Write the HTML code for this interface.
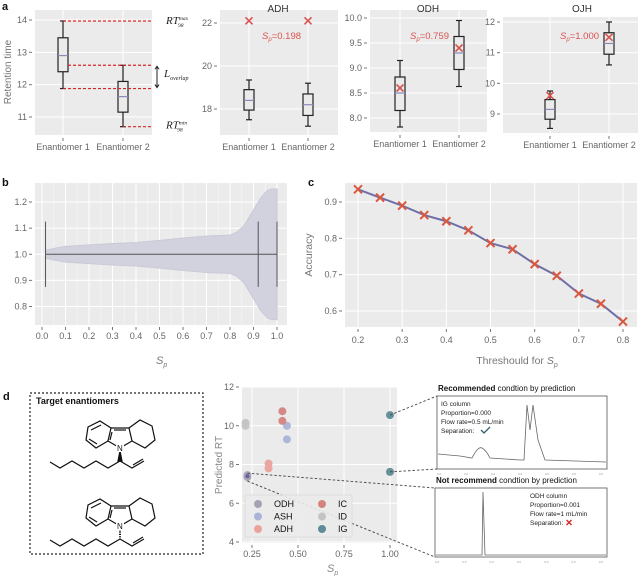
<!DOCTYPE html>
<html><head><meta charset="utf-8"><style>
body{margin:0;background:#fff}
svg{display:block;font-family:"Liberation Sans",sans-serif}
.t{fill:#666;font-size:9px}
.ttl{fill:#333;font-size:10px}
.lab{font-weight:bold;font-size:11px;fill:#111}
</style></head><body>
<svg id="fig" width="640" height="576" viewBox="0 0 640 576">
<g id="root"></g>
</svg>
<script>
// ---------- data ----------
const boxCats = ["Enantiomer 1","Enantiomer 2"];
// [whiskLow, q1, median, q3, whiskHigh]
const boxA = [[11.88,12.4,12.9,13.45,13.97],[10.7,11.15,11.63,12.1,12.6]];
const boxADH = [[17.5,17.95,18.4,18.9,19.35],[17.2,17.7,18.2,18.7,19.2]];
const boxODH = [[7.82,8.15,8.5,8.82,9.15],[8.63,8.97,9.3,9.63,9.95]];
const boxOJH = [[8.53,8.83,9.15,9.47,9.75],[10.6,10.95,11.3,11.65,12.0]];
const meanADH = [22.1,22.1];
const meanODH = [8.6,9.4];
const meanOJH = [9.6,11.5];
const spValues = ["0.198","0.759","1.000"];
const ticksA = [11,12,13,14];
const ticksADH = [18,20,22];
const ticksODH = [8.0,8.5,9.0,9.5,10.0];
const ticksOJH = [9,10,11,12];
// violin (b)
const violinX = [0.015,0.05,0.1,0.2,0.3,0.4,0.5,0.6,0.7,0.75,0.8,0.83,0.86,0.9,0.93,0.96,0.98,1.0];
const violinHalf = [0.015,0.022,0.03,0.036,0.041,0.045,0.053,0.062,0.07,0.072,0.073,0.085,0.11,0.17,0.215,0.245,0.25,0.25];
const violinBars = [0.015,0.92,1.0];
const ticksBx = [0,0.1,0.2,0.3,0.4,0.5,0.6,0.7,0.8,0.9,1.0];
const ticksBy = [0.8,0.9,1.0,1.1,1.2];
// accuracy (c)
const thresholds = [0.2,0.25,0.3,0.35,0.4,0.45,0.5,0.55,0.6,0.65,0.7,0.75,0.8];
const accuracy = [0.935,0.912,0.89,0.864,0.847,0.822,0.787,0.77,0.729,0.697,0.648,0.62,0.571];
const ticksCx = [0.2,0.3,0.4,0.5,0.6,0.7,0.8];
const ticksCy = [0.6,0.7,0.8,0.9];
// scatter (d)
const scatterCols = ["ODH","ASH","ADH","IC","ID","IG"];
const scatterColors = ["#a3a3b5","#aab4d8","#eaa39c","#d4847f","#c4c4c4","#5f8c96"];
const scatterSp = [[0.225,0.225],[0.44,0.44],[0.34,0.34],[0.415,0.415],[0.215,0.215],[1.0,1.0]];
const scatterRT = [[7.35,7.45],[10.0,9.3],[8.05,7.8],[10.75,10.25],[10.15,10.0],[10.55,7.62]];
const ticksDx = [0.25,0.5,0.75,1.0];
const ticksDy = [4,6,8,10,12];

// ---------- helpers ----------
const NS="http://www.w3.org/2000/svg";
const root=document.getElementById('root');
function mk(tag,attrs,parent,text){const e=document.createElementNS(NS,tag);for(const k in attrs)e.setAttribute(k,attrs[k]);if(text!==undefined)e.textContent=text;(parent||root).appendChild(e);return e;}
function grp(name){const g=mk('g',{});return g;}
function scale(d0,d1,r0,r1){return v=>r0+(v-d0)*(r1-r0)/(d1-d0);}
function bg(g,x0,y0,x1,y1){mk('rect',{x:x0,y:y0,width:x1-x0,height:y1-y0,fill:'#ebebeb'},g);}
function xmark(g,x,y,s,c,w){mk('path',{d:`M${x-s},${y-s}L${x+s},${y+s}M${x-s},${y+s}L${x+s},${y-s}`,stroke:c,'stroke-width':w,fill:'none'},g);}

function boxPanel(name,x0,x1,yTop,yBot,ys,ticks,boxes,means,xs,fmt,title,tx,sp,spx){
  const g=grp(name);
  bg(g,x0,yTop,x1,yBot);
  ticks.forEach(t=>{const y=ys(t);mk('line',{x1:x0,x2:x1,y1:y,y2:y,stroke:'#fff','stroke-width':1},g);
    mk('line',{x1:x0-6,x2:x0-3,y1:y,y2:y,stroke:'#777'},g);
    const tl=mk('text',{x:x0-8,y:y+3,'text-anchor':'end',class:'t'},g,fmt(t));});
  xs.forEach((x,i)=>{mk('line',{x1:x,x2:x,y1:yTop,y2:yBot,stroke:'#fff'},g);
    mk('line',{x1:x,x2:x,y1:yBot+3,y2:yBot+6,stroke:'#777'},g);
    const tl=mk('text',{x:x,y:yBot+15,'text-anchor':'middle',class:'t'},g,boxCats[i]);});
  boxes.forEach((b,i)=>{const x=xs[i],w=5;
    const bg2=mk('g',{},g);
    mk('line',{x1:x,x2:x,y1:ys(b[0]),y2:ys(b[1]),stroke:'#222','stroke-width':1.2},bg2);
    mk('line',{x1:x,x2:x,y1:ys(b[3]),y2:ys(b[4]),stroke:'#222','stroke-width':1.2},bg2);
    mk('line',{x1:x-3,x2:x+3,y1:ys(b[0]),y2:ys(b[0]),stroke:'#222','stroke-width':1.2},bg2);
    mk('line',{x1:x-3,x2:x+3,y1:ys(b[4]),y2:ys(b[4]),stroke:'#222','stroke-width':1.2},bg2);
    mk('rect',{x:x-w,y:ys(b[3]),width:2*w,height:ys(b[1])-ys(b[3]),fill:'#ebebeb',stroke:'#222','stroke-width':1.2},bg2);
    mk('line',{x1:x-w,x2:x+w,y1:ys(b[2]),y2:ys(b[2]),stroke:'#8a8ab8','stroke-width':1.2},bg2);
    if(means){const m=mk('g',{},bg2);xmark(m,x,ys(means[i]),3.5,'#d9534f',1.6);}
  });
  if(title){const t=mk('text',{x:tx,y:12,'text-anchor':'middle',class:'ttl'},g,title);}
  if(sp){const t=mk('text',{x:spx,y:39,fill:'#d9534f','font-size':'9.5px'},g);
    mk('tspan',{'font-style':'italic'},t,'S');mk('tspan',{dy:2,'font-size':'6px','font-style':'italic'},t,'p');mk('tspan',{dy:-2},t,'='+sp);}
  return g;
}

// ---------- panel a ----------
const lA=mk('text',{x:2,y:10,class:'lab'},root,'a');
const yA=scale(14,11,20,117);
const gA=boxPanel('boxplot-example',35,152,10,135,yA,ticksA,boxA,null,[63,123],v=>v,null);
[[boxA[0][4],63],[boxA[1][4],68],[boxA[0][0],63],[boxA[1][0],123]].forEach(p=>{
  const l=mk('line',{x1:p[1],x2:152,y1:yA(p[0]),y2:yA(p[0]),stroke:'#d62728','stroke-width':1.2,'stroke-dasharray':'3,2'},gA);});
mk('path',{d:`M157,${yA(boxA[1][4])+1}L157,${yA(boxA[0][0])-1}M155,${yA(boxA[1][4])+4}L157,${yA(boxA[1][4])+1}L159,${yA(boxA[1][4])+4}M155,${yA(boxA[0][0])-4}L157,${yA(boxA[0][0])-1}L159,${yA(boxA[0][0])-4}`,stroke:'#222',fill:'none'},gA);
function rtLabel(y,sup){const t=mk('text',{x:166,y:y,'font-family':'Liberation Serif','font-style':'italic','font-size':'11px',fill:'#222'},gA);
  mk('tspan',{},t,'RT');mk('tspan',{dy:-4,'font-size':'5.5px'},t,sup);mk('tspan',{dx:-10,dy:7,'font-size':'5.5px'},t,'98');}
rtLabel(yA(13.97)+3,'max');rtLabel(yA(10.7)+2,'min');
const lo=mk('text',{x:164,y:77,'font-family':'Liberation Serif','font-style':'italic','font-size':'11px',fill:'#222'},gA);
mk('tspan',{},lo,'L');mk('tspan',{dy:3,'font-size':'6px'},lo,'overlap');
const yl=mk('text',{x:11,y:72,transform:'rotate(-90 11 72)','text-anchor':'middle',fill:'#777','font-size':'10px'},root,'Retention time');

boxPanel('boxplot-adh',220,338,10,135,scale(22,18,23,109),ticksADH,boxADH,meanADH,[249,308],v=>v,'ADH',278,spValues[0],262);
boxPanel('boxplot-odh',370,487,10,132,scale(10,8,18,118),ticksODH,boxODH,meanODH,[400,459],v=>v.toFixed(1),'ODH',428,spValues[1],410);
boxPanel('boxplot-ojh',503,638,17,133,scale(12,9,22,114),ticksOJH,boxOJH,meanOJH,[550,609],v=>v,'OJH',582,spValues[2],560);

// ---------- panel b ----------
(function(){
  const g=grp('violin-plot');
  const lb=mk('text',{x:2,y:186,class:'lab'},root,'b');
  const x=scale(0,1,42,277), y=scale(1.2,0.8,202,306.5);
  bg(g,35,183,287,325);
  for(let v=0.05;v<1.0;v+=0.1){mk('line',{x1:x(v),x2:x(v),y1:183,y2:325,stroke:'#f6f6f6','stroke-width':0.6},g);}
  ticksBx.forEach(t=>{mk('line',{x1:x(t),x2:x(t),y1:183,y2:325,stroke:'#fff'},g);mk('line',{x1:x(t),x2:x(t),y1:327,y2:330,stroke:'#777'},g);
    const tl=mk('text',{x:x(t),y:339,'text-anchor':'middle',class:'t'},g,t.toFixed(1));});
  ticksBy.forEach(t=>{mk('line',{x1:35,x2:287,y1:y(t),y2:y(t),stroke:'#fff'},g);mk('line',{x1:29,x2:32,y1:y(t),y2:y(t),stroke:'#777'},g);
    const tl=mk('text',{x:27,y:y(t)+3,'text-anchor':'end',class:'t'},g,t.toFixed(1));});
  let d='M'+violinX.map((v,i)=>x(v)+','+y(1+violinHalf[i])).join('L');
  for(let i=violinX.length-1;i>=0;i--)d+='L'+x(violinX[i])+','+y(1-violinHalf[i]);
  const p=mk('path',{d:d+'Z',fill:'#d2d2de',stroke:'#cacad8'},g);
  mk('line',{x1:x(violinBars[0]),x2:x(violinBars[2]),y1:y(1),y2:y(1),stroke:'#555','stroke-width':1},g);
  violinBars.forEach(v=>{mk('line',{x1:x(v),x2:x(v),y1:y(1.125),y2:y(0.875),stroke:'#555','stroke-width':1},g);});
  const t=mk('text',{x:156,y:364,'font-style':'italic',fill:'#777','font-size':'11px'},g);
  mk('tspan',{},t,'S');mk('tspan',{dy:3,'font-size':'7px'},t,'p');
})();

// ---------- panel c ----------
(function(){
  const g=grp('accuracy-chart');
  const lc=mk('text',{x:308,y:186,class:'lab'},root,'c');
  const x=scale(0.2,0.8,358,623), y=scale(0.9,0.6,202,311);
  bg(g,345,183,637,327);
  ticksCx.forEach(t=>{mk('line',{x1:x(t),x2:x(t),y1:183,y2:327,stroke:'#fff'},g);mk('line',{x1:x(t),x2:x(t),y1:329,y2:332,stroke:'#777'},g);
    const tl=mk('text',{x:x(t),y:343,'text-anchor':'middle',class:'t'},g,t.toFixed(1));});
  ticksCy.forEach(t=>{mk('line',{x1:345,x2:637,y1:y(t),y2:y(t),stroke:'#fff'},g);mk('line',{x1:339,x2:342,y1:y(t),y2:y(t),stroke:'#777'},g);
    const tl=mk('text',{x:337,y:y(t)+3,'text-anchor':'end',class:'t'},g,t.toFixed(1));});
  const pl=mk('polyline',{points:thresholds.map((v,i)=>x(v)+','+y(accuracy[i])).join(' '),fill:'none',stroke:'#6f6fa8','stroke-width':2},g);
  thresholds.forEach((v,i)=>{const m=mk('g',{},g);xmark(m,x(v),y(accuracy[i]),4,'#d9583f',2);});
  const yt=mk('text',{x:312,y:255,transform:'rotate(-90 312 255)','text-anchor':'middle',fill:'#777','font-size':'10.5px'},g,'Accuracy');
  const t=mk('text',{x:517,y:364,'text-anchor':'middle',fill:'#777','font-size':'10.5px'},g);
  mk('tspan',{},t,'Threshould for ');mk('tspan',{'font-style':'italic'},t,'S');mk('tspan',{dy:3,'font-size':'7px','font-style':'italic'},t,'p');
})();

// ---------- panel d ----------
(function(){
  const ld=mk('text',{x:3,y:400,class:'lab'},root,'d');
  const g=grp('target-enantiomers-box');
  mk('rect',{x:30,y:393,width:173,height:161,fill:'none',stroke:'#222','stroke-width':1.2,'stroke-dasharray':'2,2'},g);
  const tt=mk('text',{x:36,y:404,'font-weight':'bold','font-size':'9px',fill:'#111'},g,'Target enantiomers');
  function mol(dy,wedge){
    const m=mk('g',{transform:`translate(0,${dy})`,stroke:'#111','stroke-width':1.2,fill:'none'},g);
    
    mk('path',{d:'M120,448L108,441L111,428L129,428L132,441Z'},m);
    mk('path',{d:'M111,428L100,421L88,427L86,440L96,448L108,441'},m);
    mk('path',{d:'M101,425L91,430M89,439L97,444M112,432L110,440'},m);
    mk('path',{d:'M129,428L140,420L152,426L155,440L145,448L132,441'},m);
    mk('path',{d:'M114,430L126,430'},m);
    mk('path',{d:'M120,461L108,468L96,461L84,468L72,461L60,468L50,462'},m);
    mk('path',{d:'M120,461L132,468L144,461M133,465L143,459'},m);
    if(wedge)mk('path',{d:'M120,451L118,461L122,461Z',fill:'#111'},m);
    else mk('path',{d:'M120,451L120,461','stroke-dasharray':'1.2,1.2','stroke-width':2},m);
    mk('rect',{x:116,y:444,width:8,height:8,fill:'#fff',stroke:'none'},m);
    mk('text',{x:117,y:451,'font-size':'8px',fill:'#111',stroke:'none'},m,'N');
  }
  mol(0,true);mol(78,false);

  const s=grp('scatter-plot');
  const x=scale(0.25,1.0,252,390), y=scale(12,4,387,542);
  bg(s,242,387,397,543);
  ticksDx.forEach(t=>{mk('line',{x1:x(t),x2:x(t),y1:387,y2:543,stroke:'#fff'},s);mk('line',{x1:x(t),x2:x(t),y1:545,y2:548,stroke:'#777'},s);
    const tl=mk('text',{x:x(t),y:557,'text-anchor':'middle',class:'t'},s,t.toFixed(2));});
  ticksDy.forEach(t=>{mk('line',{x1:242,x2:397,y1:y(t),y2:y(t),stroke:'#fff'},s);mk('line',{x1:236,x2:239,y1:y(t),y2:y(t),stroke:'#777'},s);
    const tl=mk('text',{x:234,y:y(t)+3,'text-anchor':'end',class:'t'},s,t);});
  const cs=[[x(1.0),y(scatterRT[5][0]),437,396],[x(1.0),y(scatterRT[5][1]),437,469],[x(scatterSp[0][0]),y(scatterRT[0][1])-2,435,488],[x(scatterSp[0][0]),y(scatterRT[0][0])+4,435,557]];
  cs.forEach(c=>{const l=mk('line',{x1:c[0],y1:c[1],x2:c[2],y2:c[3],stroke:'#444','stroke-width':0.9,'stroke-dasharray':'2.5,2'},root);});
  scatterCols.forEach((c,i)=>{scatterSp[i].forEach((v,j)=>{const p=mk('circle',{cx:x(v),cy:y(scatterRT[i][j]),r:4,fill:scatterColors[i],opacity:0.95},s);});});
  mk('circle',{cx:x(0.225),cy:y(7.4),r:2,fill:'#6a5f9a'},s);
  const lg=grp('legend');
  mk('rect',{x:245,y:495,width:107,height:42,fill:'#ebebeb',stroke:'#ddd',opacity:0.9},lg);
  scatterCols.forEach((c,i)=>{const col=i<3?0:1,row=i%3;const cx=col?322:258,cy=504+row*12.5;
    const e=mk('g',{},lg);
    mk('circle',{cx:cx,cy:cy,r:4,fill:scatterColors[i]},e);mk('text',{x:cx+16,y:cy+3,'font-size':'9px',fill:'#111'},e,c);});
  const yt=mk('text',{x:222,y:465,transform:'rotate(-90 222 465)','text-anchor':'middle',fill:'#888','font-size':'10px'},s,'Predicted RT');
  const t=mk('text',{x:327,y:572,'font-style':'italic',fill:'#888','font-size':'11px'},s);
  mk('tspan',{},t,'S');mk('tspan',{dy:3,'font-size':'7px'},t,'p');

  function chrom(name,x0,y0,x1,y1,title1,title2,lines,ok,path,tx){
    const c=grp(name);
    const t=mk('text',{x:x0+1,y:y0-5,'font-size':'8px',fill:'#111'},c);mk('tspan',{'font-weight':'bold'},t,title1);mk('tspan',{},t,title2);
    
    mk('rect',{x:x0,y:y0,width:x1-x0,height:y1-y0,fill:'#fff',stroke:'#555','stroke-width':0.8},c);
    mk('path',{d:path,fill:'none',stroke:'#666','stroke-width':0.8},c);
    lines.forEach((l,i)=>{const tl=mk('text',{x:tx,y:y0+10+i*9,'font-size':'6.5px',fill:'#222'},c,l);});
    const sy=y0+10+(lines.length-1)*9;
    if(ok)mk('path',{d:`M${tx+40},${sy-3}L${tx+43},${sy}L${tx+49},${sy-6}`,stroke:'#2f5f6a','stroke-width':1.3,fill:'none'},c);
    else xmark(c,tx+39,sy-2.5,2.5,'#d62728',1.4);
    for(let i=0;i<7;i++)mk('text',{x:x0+i*(x1-x0)/6.3,y:y1+6,'font-size':'3px',fill:'#999'},c,'0.0');
  }
  chrom('chromatogram-recommended',437,396,607,469,'Recommended',' condtion by prediction',['IG column','Proportion=0.000','Flow rate=0.5 mL/min','Separation:'],true,
    'M438,454L460,456L472,458Q478,446 482,448Q486,450 490,458L520,460L524,460L527,405L530,430L533,405L538,440L545,460L606,462',441);
  chrom('chromatogram-not-recommended',435,488,607,557,'Not recommend',' condtion by prediction',['ODH column','Proportion=0.001','Flow rate=1 mL/min','Separation:'],false,
    'M436,555L482,555L483,492L485,555L606,555',530);
})();
</script>
</body></html>
